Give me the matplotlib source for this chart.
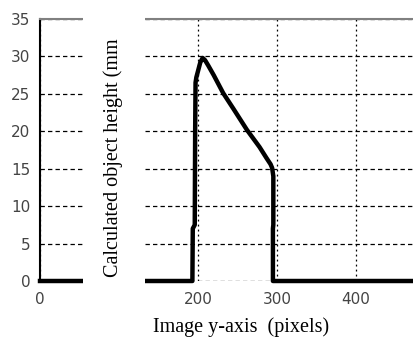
import matplotlib.pyplot as plt
from matplotlib.patches import Rectangle

# profile (x = image row in pixels, y = height in mm)
x_pix = [0, 193, 193.5, 196, 196.5, 197, 198, 200, 203, 206, 209, 213, 220,
         232, 245, 262, 278, 287, 292, 294, 295.5, 295.5, 295, 295, 480]
height_mm = [0, 0, 7, 7.5, 20, 26.5, 27.2, 28.0, 29.2, 29.8, 29.5, 28.8, 27.5,
             25.1, 23, 20.2, 17.9, 16.4, 15.6, 15.1, 14, 7.5, 7, 0, 0]

x_ticks = [0, 100, 200, 300, 400]
x_labels = ['0', '', '200', '300', '400']   # 100 sits under the pasted label
y_ticks = [0, 5, 10, 15, 20, 25, 30, 35]

fig = plt.figure(figsize=(4.13, 3.45), dpi=100)
ax = fig.add_axes([40/413, 64/345, 379/413, 262/345])

ax.plot(x_pix, height_mm, color='black', lw=3.2, clip_on=False,
        solid_joinstyle='round', zorder=3)

ax.set_xlim(0, 480)
ax.set_ylim(0, 35)
ax.set_xticks(x_ticks)
ax.set_xticklabels(x_labels)
ax.set_yticks(y_ticks)
ax.tick_params(length=0, labelsize=11, labelcolor='#444444', pad=7)
ax.tick_params(axis='x', pad=8)

ax.xaxis.grid(True, color='black', lw=0.9, ls=(0, (1.5, 2.5)))
ax.yaxis.grid(True, color='black', lw=0.9, ls=(0, (3.5, 2.5)))

for s in ['right', 'bottom']:
    ax.spines[s].set_visible(False)
ax.spines['left'].set_linewidth(1.5)
ax.spines['top'].set_linewidth(1.5)
ax.spines['top'].set_color('#808080')

# white strip with the y label pasted over the plot
fig.patches.append(Rectangle((83/413, 0), 62/413, 1, transform=fig.transFigure,
                             facecolor='white', edgecolor='none', zorder=5))
fig.text(113/413, 187/345, 'Calculated object height (mm', rotation=90,
         ha='center', va='center', family='Liberation Serif', fontsize=14.5,
         zorder=6)

fig.text(241/413, 18/345, 'Image y-axis  (pixels)', ha='center', va='center',
         family='Liberation Serif', fontsize=14.5)

plt.savefig('out.png', dpi=100)
